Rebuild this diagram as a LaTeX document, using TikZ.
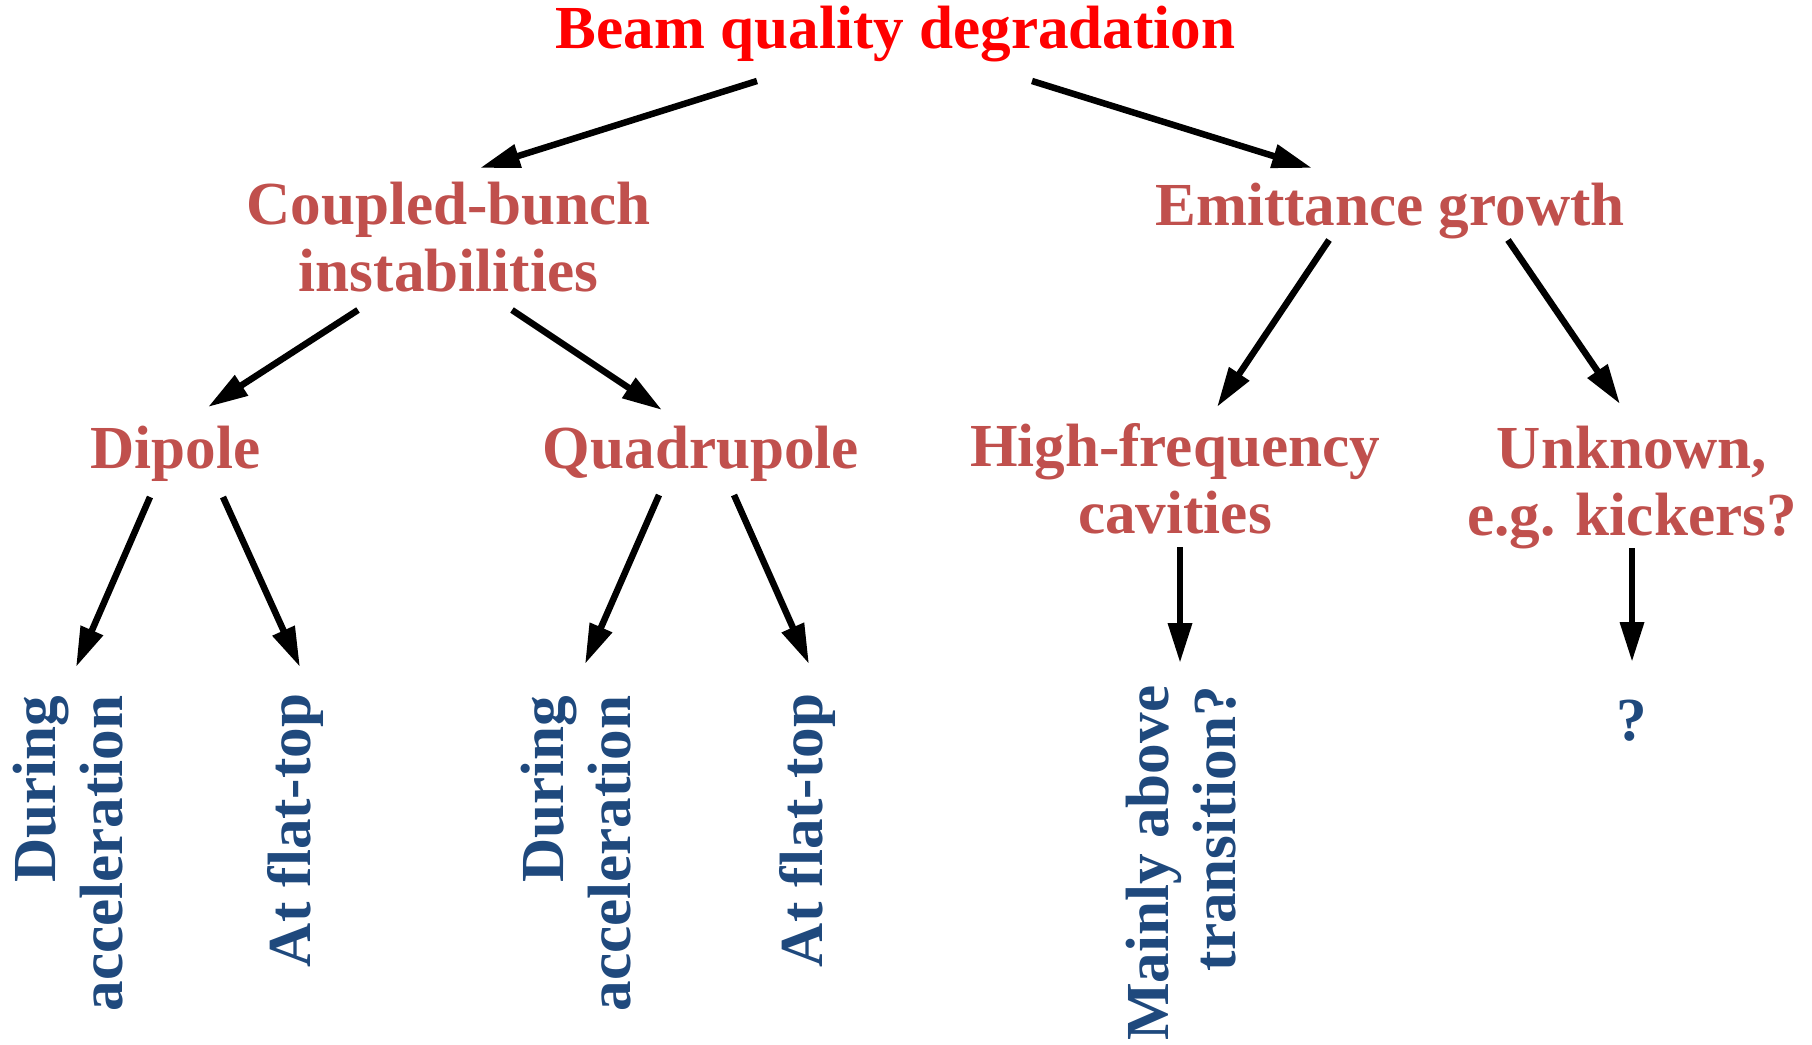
\documentclass[tikz,border=0pt]{standalone}
\usepackage{fontspec}
\setmainfont{Liberation Serif}
\usetikzlibrary{arrows.meta,calc}
\definecolor{titlered}{HTML}{FF0000}
\definecolor{causered}{HTML}{C0504D}
\definecolor{caseblue}{HTML}{1F497D}

\begin{document}
\begin{tikzpicture}[x=0.1mm, y=-0.1mm,
    >={Triangle[length=4mm,width=2.3mm]},
    every node/.style={font=\bfseries\fontsize{17.4}{19}\selectfont, inner sep=0pt},
    cause/.style={causered, align=center, anchor=base},
    case/.style={caseblue, rotate=90, align=right, anchor=base east},
    arr/.style={->, line width=0.65mm}]
  \useasboundingbox (0,0) rectangle (1812,1044);

  \node [titlered, anchor=base] (beam) at (895.5,48) {Beam quality degradation};

  % causes (base = last line)
  \node [cause] (cb)   at (448.5,291) {Coupled-bunch\\instabilities};
  \node [cause] (emit) at (1390,225)  {Emittance growth};

  \node [cause] (dip)  at (175.5,468) {Dipole};
  \node [cause] (quad) at (701,468)   {Quadrupole};
  \node [cause] (hf)   at (1175,533)  {High-frequency\\cavities};
  \node [cause] (unk)  at (1632,535)  {Unknown,\\e.g. kickers?};

  % cases (vertical text)
  \node [case] (dacc)  at (122,695) {During\\acceleration};
  \node [case] (dflat) at (310,693) {At flat-top};
  \node [case] (qacc)  at (630,695) {During\\acceleration};
  \node [case] (qflat) at (822,693) {At flat-top};
  \node [case] (hfa)   at (1235,685) {Mainly above\\transition?};
  \node [caseblue, anchor=base] (unkq) at (1632,740) {?};

  \draw[arr] ($(beam.base)+(-138.5,33)$) -- ($(cb.base)+(31.5,-123)$);
  \draw[arr] ($(beam.base)+(136.5,33)$)  -- ($(emit.base)+(-78,-57)$);

  \draw[arr] ($(cb.base)+(-90.5,19)$) -- ($(dip.base)+(32.5,-61)$);
  \draw[arr] ($(cb.base)+(63.5,19)$)  -- ($(quad.base)+(-39,-58)$);
  \draw[arr] ($(emit.base)+(-61,15)$) -- ($(hf.base)+(42,-126)$);
  \draw[arr] ($(emit.base)+(118,15)$) -- ($(unk.base)+(-12,-131)$);

  \draw[arr] ($(dip.base)+(-25.5,29)$) -- ($(dacc.base east)+(-46,-28)$);
  \draw[arr] ($(dip.base)+(47.5,29)$)  -- ($(dflat.base east)+(-10,-26)$);
  \draw[arr] ($(quad.base)+(-42,27)$)  -- ($(qacc.base east)+(-45,-31)$);
  \draw[arr] ($(quad.base)+(33,27)$)   -- ($(qflat.base east)+(-13,-29)$);
  \draw[arr] ($(hf.base)+(5,14)$)      -- ($(hfa.base east)+(-55,-22)$);
  \draw[arr] ($(unk.base)+(0,13)$)     -- ($(unkq.base)+(0,-78)$);
\end{tikzpicture}
\end{document}
